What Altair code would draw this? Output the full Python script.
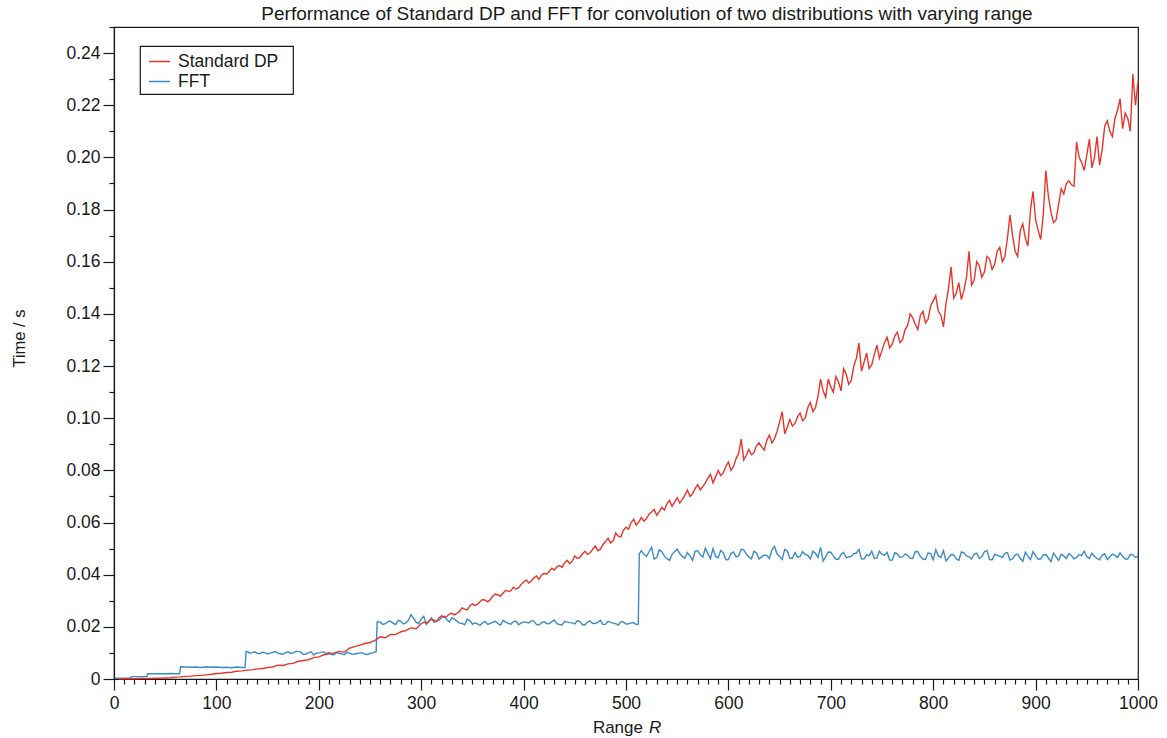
import altair as alt
import pandas as pd

# Standard DP timings, Range R every 5 units
dp_r = list(range(5, 1001, 5))
dp_t = [
    0.0000, 0.0001, 0.0001, 0.0001, 0.0002, 0.0002, 0.0002, 0.0003, 0.0003, 0.0004,
    0.0005, 0.0007, 0.0008, 0.0010, 0.0011, 0.0013, 0.0014, 0.0016, 0.0018, 0.0021,
    0.0022, 0.0025, 0.0026, 0.0030, 0.0031, 0.0034, 0.0035, 0.0039, 0.0040, 0.0044,
    0.0046, 0.0053, 0.0052, 0.0058, 0.0060, 0.0068, 0.0071, 0.0074, 0.0082, 0.0085,
    0.0093, 0.0097, 0.0100, 0.0106, 0.0103, 0.0118, 0.0124, 0.0130, 0.0136, 0.0140,
    0.0148, 0.0162, 0.0158, 0.0171, 0.0170, 0.0181, 0.0186, 0.0196, 0.0193, 0.0212,
    0.0215, 0.0229, 0.0220, 0.0242, 0.0240, 0.0252, 0.0253, 0.0273, 0.0265, 0.0288,
    0.0286, 0.0305, 0.0296, 0.0318, 0.0322, 0.0330, 0.0336, 0.0352, 0.0349, 0.0372,
    0.0368, 0.0388, 0.0382, 0.0405, 0.0412, 0.0418, 0.0435, 0.0445, 0.0442, 0.0472,
    0.0466, 0.0490, 0.0484, 0.0510, 0.0498, 0.0527, 0.0522, 0.0560, 0.0545, 0.0582,
    0.0600, 0.0590, 0.0620, 0.0615, 0.0640, 0.0628, 0.0658, 0.0672, 0.0662, 0.0695,
    0.0688, 0.0724, 0.0710, 0.0745, 0.0738, 0.0770, 0.0752, 0.0800, 0.0790, 0.0832,
    0.0815, 0.0865, 0.0840, 0.0880, 0.0868, 0.0905, 0.0878, 0.0935, 0.0920, 0.0985,
    0.0940, 0.0995, 0.0980, 0.1020, 0.1000, 0.1060, 0.1040, 0.1150, 0.1080, 0.1120,
    0.1160, 0.1105, 0.1170, 0.1145, 0.1230, 0.1180, 0.1250, 0.1205, 0.1280, 0.1260,
    0.1310, 0.1285, 0.1330, 0.1300, 0.1355, 0.1385, 0.1340, 0.1410, 0.1380, 0.1450,
    0.1410, 0.1350, 0.1500, 0.1460, 0.1520, 0.1490, 0.1640, 0.1530, 0.1585, 0.1560,
    0.1610, 0.1590, 0.1655, 0.1620, 0.1780, 0.1640, 0.1720, 0.1690, 0.1800, 0.1760,
    0.1685, 0.1950, 0.1790, 0.1760, 0.1880, 0.1900, 0.1895, 0.2060, 0.1980, 0.2010,
    0.1960, 0.2080, 0.2030, 0.2140, 0.2080, 0.2180, 0.2110, 0.2150, 0.2320, 0.2290,
]
# Extra DP samples half-way between the grid points above, R = 302.5 ... 997.5
dp_mid_r = [r + 2.5 for r in range(300, 1000, 5)]
dp_mid_t = [
    0.0218, 0.0221, 0.0226, 0.0235, 0.0236, 0.0249, 0.0246, 0.0259, 0.0268, 0.0280,
    0.0282, 0.0297, 0.0302, 0.0305, 0.0326, 0.0318, 0.0340, 0.0338, 0.0345, 0.0362,
    0.0380, 0.0376, 0.0395, 0.0398, 0.0402, 0.0425, 0.0430, 0.0428, 0.0455, 0.0452,
    0.0462, 0.0480, 0.0478, 0.0498, 0.0492, 0.0515, 0.0540, 0.0530, 0.0548, 0.0570,
    0.0575, 0.0612, 0.0602, 0.0605, 0.0632, 0.0650, 0.0642, 0.0648, 0.0685, 0.0678,
    0.0675, 0.0705, 0.0700, 0.0730, 0.0725, 0.0752, 0.0785, 0.0775, 0.0780, 0.0815,
    0.0800, 0.0845, 0.0920, 0.0858, 0.0860, 0.0895, 0.0890, 0.0915, 0.0905, 0.0950,
    0.1025, 0.0965, 0.0970, 0.1005, 0.0990, 0.1040, 0.1025, 0.1085, 0.1105, 0.1150,
    0.1100, 0.1140, 0.1190, 0.1130, 0.1200, 0.1288, 0.1215, 0.1190, 0.1245, 0.1230,
    0.1290, 0.1270, 0.1315, 0.1290, 0.1340, 0.1400, 0.1360, 0.1395, 0.1365, 0.1430,
    0.1470, 0.1395, 0.1440, 0.1580, 0.1480, 0.1455, 0.1540, 0.1510, 0.1600, 0.1540,
    0.1620, 0.1570, 0.1640, 0.1600, 0.1690, 0.1700, 0.1620, 0.1745, 0.1660, 0.1870,
    0.1720, 0.1780, 0.1850, 0.1750, 0.1820, 0.1860, 0.1910, 0.1890, 0.2000, 0.1950,
    0.2070, 0.2000, 0.1970, 0.2120, 0.2100, 0.2150, 0.2225, 0.2170, 0.2100, 0.2200,
]

# FFT timings on the 5-unit grid
fft_grid_r = list(range(5, 1001, 5))
fft_grid_t = [
    0.0003, 0.0003, 0.0003, 0.0009, 0.0009, 0.0009, 0.0020, 0.0020, 0.0020, 0.0020,
    0.0021, 0.0020, 0.0047, 0.0046, 0.0045, 0.0046, 0.0044, 0.0047, 0.0045, 0.0046,
    0.0044, 0.0045, 0.0043, 0.0046, 0.0044, 0.0105, 0.0101, 0.0098, 0.0103, 0.0096,
    0.0102, 0.0099, 0.0095, 0.0104, 0.0100, 0.0106, 0.0094, 0.0101, 0.0092, 0.0100,
    0.0104, 0.0102, 0.0094, 0.0098, 0.0093, 0.0099, 0.0096, 0.0100, 0.0095, 0.0098,
    0.0104, 0.0218, 0.0212, 0.0222, 0.0209, 0.0221, 0.0215, 0.0247, 0.0218, 0.0230,
    0.0209, 0.0234, 0.0222, 0.0236, 0.0228, 0.0235, 0.0222, 0.0213, 0.0229, 0.0210,
    0.0211, 0.0216, 0.0209, 0.0218, 0.0212, 0.0225, 0.0213, 0.0220, 0.0208, 0.0219,
    0.0215, 0.0223, 0.0207, 0.0219, 0.0212, 0.0226, 0.0209, 0.0221, 0.0216, 0.0211,
    0.0220, 0.0208, 0.0222, 0.0214, 0.0225, 0.0210, 0.0217, 0.0212, 0.0220, 0.0211,
    0.0215, 0.0209, 0.0492, 0.0470, 0.0505, 0.0466, 0.0488, 0.0462, 0.0478, 0.0498,
    0.0470, 0.0485, 0.0455, 0.0492, 0.0468, 0.0480, 0.0500, 0.0465, 0.0484, 0.0458,
    0.0487, 0.0472, 0.0495, 0.0468, 0.0490, 0.0460, 0.0475, 0.0462, 0.0508, 0.0470,
    0.0497, 0.0463, 0.0485, 0.0470, 0.0478, 0.0460, 0.0482, 0.0505, 0.0468, 0.0486,
    0.0459, 0.0478, 0.0465, 0.0470, 0.0483, 0.0461, 0.0476, 0.0490, 0.0464, 0.0478,
    0.0486, 0.0456, 0.0480, 0.0468, 0.0474, 0.0462, 0.0488, 0.0460, 0.0483, 0.0457,
    0.0472, 0.0492, 0.0465, 0.0476, 0.0455, 0.0484, 0.0468, 0.0479, 0.0462, 0.0488,
    0.0458, 0.0478, 0.0470, 0.0482, 0.0456, 0.0475, 0.0463, 0.0486, 0.0458, 0.0472,
    0.0461, 0.0477, 0.0450, 0.0468, 0.0478, 0.0462, 0.0473, 0.0466, 0.0474, 0.0469,
    0.0482, 0.0462, 0.0475, 0.0458, 0.0479, 0.0466, 0.0471, 0.0460, 0.0476, 0.0470,
]
# Extra FFT samples half-way between grid points on each plateau
fft_mid_r = ([r + 2.5 for r in range(130, 255, 5)]
             + [r + 2.5 for r in range(260, 510, 5)]
             + [r + 2.5 for r in range(515, 1000, 5)])
fft_mid_t = [
    # R = 132.5 ... 252.5
    0.0100, 0.0104, 0.0097, 0.0101, 0.0099, 0.0105, 0.0097, 0.0101, 0.0098, 0.0106,
    0.0103, 0.0096, 0.0104, 0.0099, 0.0103, 0.0097, 0.0093, 0.0101, 0.0097, 0.0102,
    0.0095, 0.0098, 0.0101, 0.0094, 0.0100,
    # R = 262.5 ... 507.5
    0.0209, 0.0220, 0.0214, 0.0225, 0.0211, 0.0225, 0.0233, 0.0212, 0.0240, 0.0222,
    0.0217, 0.0226, 0.0241, 0.0218, 0.0230, 0.0214, 0.0208, 0.0224, 0.0215, 0.0206,
    0.0220, 0.0213, 0.0221, 0.0207, 0.0218, 0.0210, 0.0222, 0.0214, 0.0217, 0.0223,
    0.0209, 0.0216, 0.0213, 0.0220, 0.0212, 0.0207, 0.0218, 0.0215, 0.0224, 0.0208,
    0.0219, 0.0213, 0.0217, 0.0209, 0.0221, 0.0214, 0.0207, 0.0219, 0.0212, 0.0216,
    # R = 517.5 ... 997.5
    0.0478, 0.0488, 0.0460, 0.0495, 0.0471, 0.0455, 0.0489, 0.0481, 0.0463, 0.0472,
    0.0490, 0.0476, 0.0502, 0.0462, 0.0470, 0.0493, 0.0457, 0.0481, 0.0468, 0.0497,
    0.0479, 0.0461, 0.0483, 0.0469, 0.0474, 0.0495, 0.0480, 0.0458, 0.0491, 0.0463,
    0.0467, 0.0488, 0.0474, 0.0490, 0.0466, 0.0452, 0.0487, 0.0472, 0.0459, 0.0486,
    0.0468, 0.0481, 0.0497, 0.0460, 0.0473, 0.0462, 0.0490, 0.0475, 0.0456, 0.0484,
    0.0467, 0.0479, 0.0463, 0.0489, 0.0470, 0.0458, 0.0481, 0.0496, 0.0466, 0.0453,
    0.0477, 0.0461, 0.0487, 0.0472, 0.0460, 0.0483, 0.0469, 0.0493, 0.0457, 0.0474,
    0.0466, 0.0485, 0.0461, 0.0479, 0.0451, 0.0470, 0.0488, 0.0459, 0.0476, 0.0464,
    0.0483, 0.0455, 0.0472, 0.0481, 0.0461, 0.0477, 0.0490, 0.0463, 0.0471, 0.0457,
    0.0480, 0.0468, 0.0474, 0.0483, 0.0460, 0.0478, 0.0466,
]
# Points either side of each power-of-two jump of the FFT size
fft_jump_r = [1, 16, 17, 32, 33, 64, 128, 129, 256, 257, 512, 513]
fft_jump_t = [0.0003, 0.0003, 0.0009, 0.0009, 0.0020, 0.0020,
              0.0044, 0.0106, 0.0104, 0.0220, 0.0210, 0.0480]

series_names = ["Standard DP", "FFT"]
series_colors = ["#e8352b", "#3b8cc6"]

dp = pd.DataFrame({"R": dp_r + dp_mid_r, "t": dp_t + dp_mid_t, "method": series_names[0]})
fft = pd.DataFrame({
    "R": fft_grid_r + fft_mid_r + fft_jump_r,
    "t": fft_grid_t + fft_mid_t + fft_jump_t,
    "method": series_names[1],
})
df = pd.concat([dp, fft], ignore_index=True).sort_values(["method", "R"])

FONT = "Liberation Sans"
INK = "#1a1a1a"

x_ticks = list(range(0, 1001, 10))
y_ticks = [round(i * 0.01, 2) for i in range(0, 26)]

x_axis = alt.Axis(
    values=x_ticks,
    title=None,
    grid=False,
    tickSize={"condition": {"test": "datum.value % 100 === 0", "value": 11}, "value": 5},
    labelExpr="datum.value % 100 === 0 ? format(datum.value, 'd') : ''",
    labelFlush=False,
    labelOverlap=False,
    labelPadding=4,
)
y_axis = alt.Axis(
    values=y_ticks,
    title="Time / s",
    grid=False,
    tickSize={"condition": {"test": "round(datum.value * 100) % 2 === 0", "value": 11}, "value": 5},
    labelExpr="datum.value === 0 ? '0' : (round(datum.value * 100) % 2 === 0 ? format(datum.value, '.2f') : '')",
    labelOverlap=False,
    labelPadding=3,
    titleX=-90,
    titleY=311,
    titleBaseline="alphabetic",
    titleFontSize=16.5,
    titleFontWeight="normal",
)

lines = alt.Chart(df).mark_line(strokeWidth=1.4).encode(
    x=alt.X("R:Q", scale=alt.Scale(domain=[0, 1000], nice=False, zero=False), axis=x_axis),
    y=alt.Y("t:Q", scale=alt.Scale(domain=[0, 0.25], nice=False), axis=y_axis),
    color=alt.Color(
        "method:N",
        scale=alt.Scale(domain=series_names, range=series_colors),
        sort=series_names,
        legend=alt.Legend(
            # a blank title on the right side gives the box its right margin
            title=" ",
            titleOrient="right",
            titlePadding=11,
            titleFontSize=17,
            orient="none",
            legendX=26,
            legendY=19,
            symbolType="stroke",
            symbolSize=441,
            symbolStrokeWidth=1.5,
            symbolOffset=4,
            labelFontSize=17.5,
            labelOffset=7,
            rowPadding=-3,
            padding=4,
            strokeColor=INK,
            fillColor="white",
        ),
    ),
    detail="method:N",
)

# x-axis title, with the variable name set in italics
range_word = alt.Chart(pd.DataFrame({"s": ["Range"]})).mark_text(
    align="right", baseline="alphabetic", fontSize=17, font=FONT, color=INK
).encode(text="s:N", x=alt.value(529), y=alt.value(706))
range_var = alt.Chart(pd.DataFrame({"s": ["R"]})).mark_text(
    align="left", baseline="alphabetic", fontSize=17, font=FONT, fontStyle="italic", color=INK
).encode(text="s:N", x=alt.value(535), y=alt.value(706))

chart = alt.layer(lines, range_word, range_var).properties(
    width=1024,
    height=652,
    title=alt.TitleParams(
        "Performance of Standard DP and FFT for convolution of two distributions with varying range",
        fontSize=19,
        fontWeight="normal",
        font=FONT,
        color=INK,
        anchor="middle",
        dx=21,
        dy=12,
        offset=6,
    ),
    autosize=alt.AutoSizeParams(type="none"),
    padding={"left": 114, "top": 27, "right": 29, "bottom": 59},
).configure(
    font=FONT,
).configure_view(
    stroke=INK,
    strokeWidth=1.2,
).configure_axis(
    domainColor=INK,
    domainWidth=1.2,
    tickColor=INK,
    tickWidth=1.2,
    labelColor=INK,
    labelFontSize=17.5,
    labelFont=FONT,
    titleColor=INK,
    titleFont=FONT,
).configure_legend(
    labelColor=INK,
    labelFont=FONT,
    strokeWidth=1.2,
)

chart.save("out.html", embed_options={"renderer": "svg", "actions": False})
